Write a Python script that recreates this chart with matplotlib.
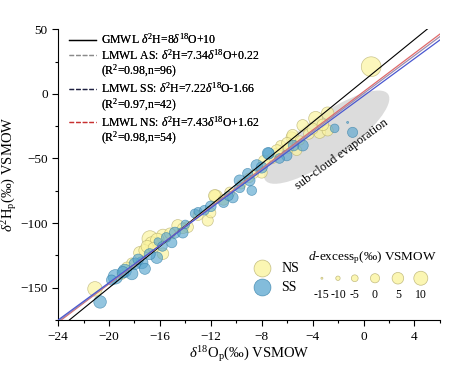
import matplotlib
matplotlib.use("Agg")
import matplotlib.pyplot as plt
import matplotlib.transforms as mtransforms
from matplotlib.lines import Line2D
from matplotlib.patches import Ellipse
import numpy as np

plt.rcParams["font.family"] = ["Liberation Serif", "DejaVu Serif"]
plt.rcParams["mathtext.fontset"] = "custom"
plt.rcParams["mathtext.rm"] = "Liberation Serif"
plt.rcParams["mathtext.it"] = "Liberation Serif:italic"

# North-side samples (NS): d18O, d2H, d-excess
ns_o = [0.6, -3.76, -2.82, -4.78, -3.45, -5.65, -5.25, -6.82, -2.82, -5.57,
        -8.0, -11.6, -11.7, -12.24, -12.0, -21.1, -16.78, -16.63, -15.76, -17.57,
        -15.76, -14.59, -6.5, -7.2, -9.0, -10.5, -13.8, -14.2, -17.2, -18.2,
        -6.0, -4.3, -5.0, -7.8, -16.2, -17.0, -9.6, -13.0, -3.2, -6.8,
        -15.2, -18.6, -8.6, -5.9, -11.0, -16.5, -4.0, -19.0]
ns_h = [21.0, -19.0, -15.0, -24.4, -29.8, -33.7, -43.8, -46.1, -28.3, -32.0,
        -60.9, -79.5, -78.7, -98.0, -92.0, -150.8, -112.0, -115.9, -109.7, -122.9,
        -123.6, -101.9, -40.0, -50.0, -65.0, -76.0, -103.0, -104.0, -121.0, -131.0,
        -38.0, -31.0, -36.0, -52.0, -113.0, -118.0, -70.0, -94.0, -24.0, -44.0,
        -108.0, -134.0, -62.0, -42.0, -82.0, -119.0, -27.0, -140.0]
ns_d = [22, 10, 7, 5, 6, 4, 2, 3, 4, 5,
        4, 9, 6, 4, 2, 11, 14, 10, 8, 7,
        5, 6, 2, 3, 1, 2, 4, 3, 5, 3,
        4, 3, 0, 5, 9, 6, 0, 2, 5, 6,
        4, 2, -1, 2, 3, 3, 4, 0]

# South-side samples (SS)
ss_o = [-2.27, -1.25, -0.86, -4.78, -6.04, -7.45, -8.39, -8.94, -8.78, -20.7,
        -19.5, -18.75, -18.2, -17.41, -16.24, -16.16, -15.06, -14.82, -14.2, -17.96,
        -17.18, -13.25, -10.27, -9.73, -8.0, -9.1, -9.73, -7.5, -13.0, -12.5,
        -11.0, -15.5, -16.8, -18.9, -19.8, -14.0, -12.0, -10.6, -6.6, -5.5,
        -17.7, -15.8]
ss_h = [-26.7, -22.1, -29.8, -39.9, -47.7, -46.1, -55.4, -67.0, -74.8, -160.9,
        -141.5, -136.8, -139.1, -130.6, -126.7, -114.3, -115.1, -107.4, -107.4, -131.4,
        -135.3, -92.6, -80.2, -72.5, -57.0, -61.6, -67.0, -46.0, -91.0, -90.0,
        -84.0, -111.0, -124.0, -138.0, -144.0, -101.0, -87.0, -79.0, -50.0, -40.0,
        -128.0, -118.0]
ss_d = [-1, -15, 2, 4, 3, 4, 5, 3, 1, 7,
        11, 8, 6, 6, 5, -3, 2, 4, 3, 5,
        4, 0, 3, 2, 4, 2, 4, 5, -2, 1,
        2, 1, 4, 5, 2, -1, 3, 0, 1, 3,
        3, 1]

# meteoric water lines: (slope, intercept)
gmwl = (8.0, 10.0)
lmwl_as = (7.34, 0.22)
lmwl_ss = (7.22, -1.66)
lmwl_ns = (7.43, 1.62)

dex_levels = [-15, -10, -5, 0, 5, 10]

YELLOW = "#fbf4a0"
YELLOW_EDGE = "#b5ad6a"
BLUE = "#5aa6cf"
BLUE_EDGE = "#2d7ba5"


def dsize(d):
    r_px = np.clip(1.0 + (np.asarray(d, dtype=float) + 15) * 0.24, 0.8, None)
    return (2 * r_px * 0.72) ** 2


fig = plt.figure(figsize=(4.72, 3.74), dpi=100)
ax = fig.add_axes([0.123, 0.144, 0.809, 0.778])

# sub-cloud evaporation zone
ell = Ellipse((0, 0), 1.50, 0.44, angle=35, facecolor="#d6d6d6", edgecolor="none", alpha=0.85,
              transform=fig.dpi_scale_trans + mtransforms.ScaledTranslation(-2.9, -33.5, ax.transData),
              zorder=0)
ax.add_patch(ell)
ax.text(-1.7, -47, "sub-cloud evaporation", rotation=36, ha="center", va="center",
        fontsize=9, zorder=1)

ax.scatter(ns_o, ns_h, s=dsize(ns_d), facecolor=YELLOW, edgecolor=YELLOW_EDGE,
           linewidth=0.5, alpha=0.7, zorder=2)
ax.scatter(ss_o, ss_h, s=dsize(ss_d), facecolor=BLUE, edgecolor=BLUE_EDGE,
           linewidth=0.5, alpha=0.65, zorder=2)

xs = np.array([-24, 6])
ax.plot(xs, gmwl[0] * xs + gmwl[1], color="black", lw=0.8, zorder=3)
ax.plot(xs, lmwl_ns[0] * xs + lmwl_ns[1], color="#e06a6a", lw=0.9, zorder=3)
ax.plot(xs, lmwl_as[0] * xs + lmwl_as[1], color="#9d8cae", lw=0.9, zorder=3)
ax.plot(xs, lmwl_ss[0] * xs + lmwl_ss[1], color="#4a58d0", lw=0.9, zorder=3)

ax.set_xlim(-24, 6)
ax.set_ylim(-175, 50)
ax.set_xticks([-24, -20, -16, -12, -8, -4, 0, 4])
ax.set_xticks(np.arange(-24, 7, 2), minor=True)
ax.set_yticks([-150, -100, -50, 0, 50])
ax.set_yticks(np.arange(-175, 51, 25), minor=True)
ax.tick_params(labelsize=9.5, direction="out", length=4, width=0.8)
ax.tick_params(which="minor", length=2.5, width=0.8)
for side in ("top", "right"):
    ax.spines[side].set_visible(False)
ax.set_xlabel(r"$\delta^{18}\mathrm{O_p}$(‰) VSMOW", fontsize=10.5, labelpad=1)
ax.set_ylabel(r"$\delta^{2}\mathrm{H_p}$(‰) VSMOW", fontsize=10.5, labelpad=1)

# line legend
blank = Line2D([], [], color="none")
handles = [
    Line2D([], [], color="black", lw=0.9),
    Line2D([], [], color="#8a8a8a", lw=0.9, ls="--"),
    blank,
    Line2D([], [], color="#1e2040", lw=0.9, ls="--"),
    blank,
    Line2D([], [], color="#c83030", lw=0.9, ls="--"),
    blank,
]
labels = [
    r"GMWL $\delta^{2}$H=8$\delta^{18}$O+10",
    r"LMWL AS: $\delta^{2}$H=7.34$\delta^{18}$O+0.22",
    r"(R$^{2}$=0.98,n=96)",
    r"LMWL SS: $\delta^{2}$H=7.22$\delta^{18}$O-1.66",
    r"(R$^{2}$=0.97,n=42)",
    r"LMWL NS: $\delta^{2}$H=7.43$\delta^{18}$O+1.62",
    r"(R$^{2}$=0.98,n=54)",
]
leg = ax.legend(handles, labels, loc="upper left", bbox_to_anchor=(0.012, 1.01),
                frameon=False, fontsize=8.5, labelspacing=0.08, handlelength=2.3,
                handletextpad=0.45, borderaxespad=0.1)
ax.add_artist(leg)

# group legend (NS / SS)
ax.scatter([0.534], [0.179], s=dsize(16), facecolor=YELLOW, edgecolor=YELLOW_EDGE,
           linewidth=0.5, alpha=0.8, transform=ax.transAxes, clip_on=False)
ax.scatter([0.534], [0.113], s=dsize(16), facecolor=BLUE, edgecolor=BLUE_EDGE,
           linewidth=0.5, alpha=0.75, transform=ax.transAxes, clip_on=False)
ax.text(0.585, 0.179, "NS", transform=ax.transAxes, fontsize=10, va="center")
ax.text(0.585, 0.113, "SS", transform=ax.transAxes, fontsize=10, va="center")

# d-excess size legend
ax.text(0.822, 0.216, r"$d$-excess$_\mathrm{p}$(‰) VSMOW", transform=ax.transAxes,
        fontsize=9.5, ha="center", va="center")
size_x = [0.691, 0.733, 0.777, 0.830, 0.890, 0.950]
ax.scatter(size_x, [0.144] * len(dex_levels), s=dsize(dex_levels), facecolor=YELLOW,
           edgecolor=YELLOW_EDGE, linewidth=0.5, alpha=0.8, transform=ax.transAxes)
for x, v in zip(size_x, dex_levels):
    ax.text(x, 0.086, str(v), transform=ax.transAxes, fontsize=8.5, ha="center", va="center")

fig.savefig("out.png", dpi=100)
